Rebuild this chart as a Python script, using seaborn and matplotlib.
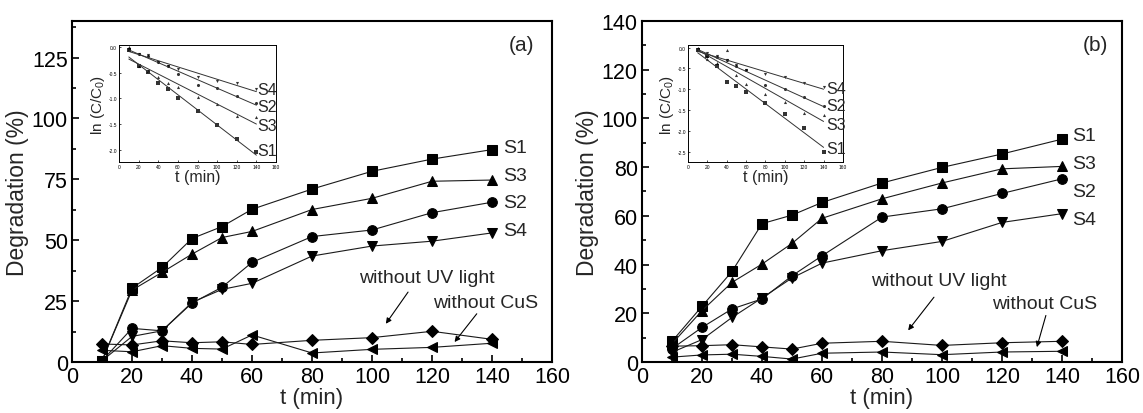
import numpy as np
import pandas as pd
import matplotlib
matplotlib.use("Agg")
import matplotlib.pyplot as plt
import seaborn as sns
from matplotlib.ticker import MultipleLocator, FormatStrFormatter

# ---------------- data ----------------
t = [10, 20, 30, 40, 50, 60, 80, 100, 120, 140]

a_S1 = [0.5, 30.3, 38.8, 50.7, 55.6, 62.7, 71.0, 78.3, 83.3, 87.2]
a_S3 = [0.5, 29.5, 36.8, 44.3, 51.1, 53.6, 62.6, 67.2, 74.2, 74.7]
a_S2 = [0.5, 13.8, 12.8, 24.2, 30.7, 40.9, 51.5, 54.2, 61.3, 65.6]
a_S4 = [0.5, 10.5, 12.8, 24.5, 29.8, 32.3, 43.5, 47.6, 49.6, 53.0]
a_noUV = [7.4, 7.0, 8.7, 7.9, 8.3, 7.2, 8.9, 10.0, 12.6, 9.3]
a_noCuS = [4.8, 4.2, 6.7, 5.6, 5.3, 11.1, 3.7, 5.2, 6.0, 7.7]

b_S1 = [8.5, 22.9, 37.2, 56.8, 60.3, 65.5, 73.5, 79.9, 85.4, 91.5]
b_S3 = [7.5, 21.1, 32.7, 40.2, 48.7, 59.0, 67.0, 73.5, 79.3, 80.3]
b_S2 = [5.5, 14.2, 21.8, 25.9, 35.4, 43.6, 59.5, 62.9, 69.2, 75.2]
b_S4 = [4.0, 9.2, 18.3, 26.3, 34.5, 40.6, 45.7, 49.5, 57.3, 60.9]
b_noUV = [6.5, 6.7, 7.1, 6.2, 5.3, 7.7, 8.5, 6.8, 7.9, 8.5]
b_noCuS = [2.0, 2.9, 3.2, 2.3, 1.2, 3.6, 4.1, 3.0, 4.1, 4.4]

# inset: ln(C/C0)
ia_S4 = [-0.03, -0.13, -0.16, -0.29, -0.37, -0.42, -0.59, -0.66, -0.70, -0.82]
ia_S2 = [-0.05, -0.13, -0.18, -0.29, -0.37, -0.52, -0.73, -0.79, -0.95, -1.10]
ia_S3 = [0.00, -0.36, -0.47, -0.59, -0.71, -0.77, -0.98, -1.11, -1.34, -1.37]
ia_S1 = [-0.05, -0.36, -0.49, -0.70, -0.81, -1.00, -1.25, -1.52, -1.80, -2.05]

ib_S4 = [-0.04, -0.12, -0.20, -0.30, -0.42, -0.54, -0.62, -0.70, -0.85, -0.94]
ib_S2 = [-0.06, -0.20, -0.22, -0.30, -0.44, -0.54, -0.90, -0.98, -1.18, -1.40]
ib_S3 = [-0.02, -0.28, -0.36, -0.06, -0.65, -0.88, -1.10, -1.30, -1.56, -1.60]
ib_S1 = [-0.06, -0.20, -0.44, -0.82, -0.92, -1.05, -1.32, -1.58, -1.92, -2.48]

sample_labels = ["S1", "S3", "S2", "S4"]

# ---------------- style ----------------
sns.set_style("ticks")
plt.rcParams["font.family"] = ["Liberation Sans", "DejaVu Sans"]
plt.rcParams["mathtext.fontset"] = "custom"
plt.rcParams["mathtext.rm"] = "Liberation Sans"
plt.rcParams["mathtext.it"] = "Liberation Sans:italic"

fig = plt.figure(figsize=(11.43, 4.14), dpi=100)
axA = fig.add_axes([0.0630, 0.1232, 0.420, 0.8237])
axB = fig.add_axes([0.5617, 0.1232, 0.420, 0.8237])
insA = fig.add_axes([0.1041, 0.6063, 0.1374, 0.2826])
insB = fig.add_axes([0.6019, 0.6063, 0.1356, 0.2826])

markers = {"S1": ("s", 6.5), "S3": ("^", 7.5), "S2": ("o", 7), "S4": ("v", 7.5),
           "noUV": ("D", 6.5), "noCuS": ("<", 7.5)}


def draw_main(ax, series, ymajor, yminor, label_pos, panel, ann):
    for key, vals in series.items():
        m, ms = markers[key]
        sns.lineplot(x=t, y=vals, ax=ax, color="#1a1a1a", marker=m, markersize=ms,
                     markeredgecolor="k", markerfacecolor="k", linewidth=0.8,
                     legend=False, errorbar=None)
    ax.set_xlim(0, 160)
    ax.set_ylim(0, 140)
    ax.xaxis.set_major_locator(MultipleLocator(20))
    ax.xaxis.set_minor_locator(MultipleLocator(10))
    ax.yaxis.set_major_locator(MultipleLocator(ymajor))
    ax.yaxis.set_minor_locator(MultipleLocator(yminor))
    ax.tick_params(which="both", direction="in", top=False, right=False,
                   width=1.2, colors="k", labelsize=15.5, pad=3)
    ax.tick_params(which="major", length=5)
    ax.tick_params(which="minor", length=3)
    for s in ax.spines.values():
        s.set_linewidth(1.5)
        s.set_color("k")
    ax.set_xlabel("t (min)", fontsize=16, labelpad=0)
    ax.set_ylabel("Degradation (%)", fontsize=16.5, labelpad=2)
    for name, (x, y) in label_pos.items():
        ax.text(x, y, name, ha="left", va="center", fontsize=14)
    ax.text(panel[1], panel[2], panel[0], ha="center", va="center", fontsize=15)
    for txt, tx, ty, start, end in ann:
        ax.text(tx, ty, txt, ha="center", va="center", fontsize=14)
        ax.annotate("", xy=end, xytext=start,
                    arrowprops=dict(arrowstyle="-|>", color="k", lw=0.8,
                                    mutation_scale=8, shrinkA=0, shrinkB=0))


def draw_inset(ax, series, ylim, yticks, label_pos):
    ins_markers = {"S1": "s", "S2": "o", "S3": "^", "S4": "v"}
    for key, vals in series.items():
        sns.regplot(x=np.array(t), y=np.array(vals), ax=ax, ci=None,
                    marker=ins_markers[key], color="k",
                    scatter_kws={"s": 5, "linewidths": 0},
                    line_kws={"lw": 0.7, "color": "#333333"})
    ax.set_xlim(0, 160)
    ax.set_ylim(*ylim)
    ax.set_xticks(range(0, 161, 20))
    ax.set_yticks(yticks)
    ax.yaxis.set_major_formatter(FormatStrFormatter("%.1f"))
    ax.tick_params(direction="in", length=1.5, width=0.5, labelsize=3.5, pad=1.5,
                   colors="k")
    for s in ax.spines.values():
        s.set_linewidth(0.7)
        s.set_color("k")
    ax.set_xlabel("t (min)", fontsize=11.5, labelpad=0)
    ax.set_ylabel(r"ln (C/C$_\mathregular{0}$)", fontsize=11, labelpad=1)
    for name, (x, y) in label_pos.items():
        ax.text(x, y, name, ha="left", va="center", fontsize=11.5)


draw_main(axA,
          {"S1": a_S1, "S3": a_S3, "S2": a_S2, "S4": a_S4,
           "noUV": a_noUV, "noCuS": a_noCuS},
          25, 12.5,
          {"S1": (143.6, 88.1), "S3": (143.6, 76.5), "S2": (143.6, 65.6), "S4": (143.6, 54.0)},
          ("(a)", 149.8, 130.5),
          [("without UV light", 118.2, 34.8, (112.0, 28.7), (104.6, 15.7)),
           ("without CuS", 138.0, 24.6, (134.9, 19.8), (127.5, 8.2))])

draw_main(axB,
          {"S1": b_S1, "S3": b_S3, "S2": b_S2, "S4": b_S4,
           "noUV": b_noUV, "noCuS": b_noCuS},
          20, 10,
          {"S1": (143.2, 92.9), "S3": (143.2, 81.3), "S2": (143.2, 69.9), "S4": (143.2, 58.7)},
          ("(b)", 151.2, 130.5),
          [("without UV light", 99.0, 33.5, (97.3, 26.6), (88.7, 13.0)),
           ("without CuS", 134.3, 23.9, (134.6, 19.1), (131.6, 6.1))])

draw_inset(insA, {"S4": ia_S4, "S2": ia_S2, "S3": ia_S3, "S1": ia_S1},
           (-2.24, 0.04), [0.0, -0.5, -1.0, -1.5, -2.0],
           {"S4": (141.0, -0.83), "S2": (141.0, -1.16), "S3": (141.0, -1.52), "S1": (141.0, -2.01)})

draw_inset(insB, {"S4": ib_S4, "S2": ib_S2, "S3": ib_S3, "S1": ib_S1},
           (-2.73, 0.06), [0.0, -0.5, -1.0, -1.5, -2.0, -2.5],
           {"S4": (143.0, -0.97), "S2": (143.0, -1.38), "S3": (143.0, -1.84), "S1": (143.0, -2.42)})

fig.savefig("out.png", dpi=100, facecolor="white")
